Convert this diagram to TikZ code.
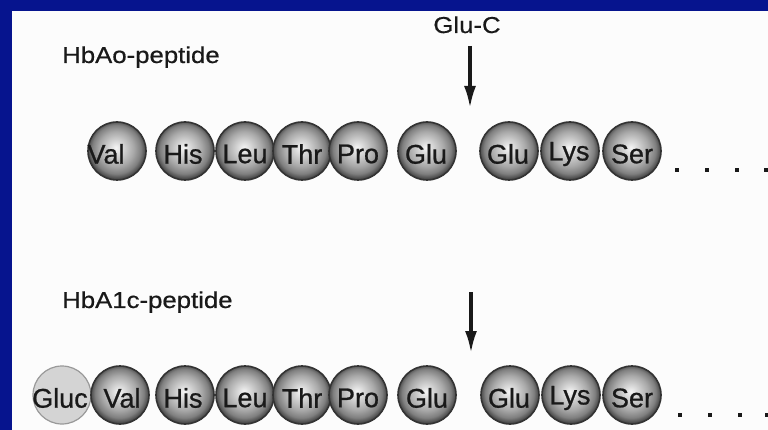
\documentclass[tikz,border=0pt]{standalone}
\usepackage{fontspec}
\setmainfont{Liberation Sans}
\newfontfamily\labfont[FakeStretch=1.12,FakeBold=0.6]{Liberation Sans}
\newfontfamily\ballfont[FakeBold=0.8]{Liberation Sans}
\pgfdeclareradialshading{pepball}{\pgfqpoint{-1bp}{3bp}}{%
  color(0bp)=(black!4);
  color(7bp)=(black!18);
  color(15bp)=(black!34);
  color(21bp)=(black!50);
  color(25bp)=(black!72);
  color(28bp)=(black!80);
  color(40bp)=(black!80)}
\definecolor{bgblue}{RGB}{6,20,142}
\definecolor{panel}{RGB}{252,252,252}
\definecolor{ink}{RGB}{25,25,25}
\usetikzlibrary{arrows.meta}
\tikzset{
  aa/.style={circle,minimum size=58pt,inner sep=0pt,draw=black!80,line width=1.6pt,
    shading=pepball},
  glucball/.style={circle,minimum size=58pt,inner sep=0pt,draw=black!40,line width=1.2pt,
    fill=black!17},
  aatext/.style={anchor=center,inner sep=0pt,text=ink,font=\ballfont\fontsize{27}{27}\selectfont},
  lab/.style={anchor=base west,inner sep=0pt,text=ink,font=\labfont\fontsize{23}{23}\selectfont},
  cut/.style={-{Latex[length=22pt,width=12pt]},line width=3.2pt,draw=ink},
  dotmark/.style={rectangle,fill=ink,inner sep=0pt,minimum size=4.5pt}
}
\begin{document}
\begin{tikzpicture}[x=1pt,y=-1pt]
\useasboundingbox (0,0) rectangle (768,430);
\fill[bgblue] (0,0) rectangle (768,430);
\fill[panel] (12,11) rectangle (768,430);
% top row
\node[lab] (t1) at (62,63) {HbAo-peptide};
\node[lab,anchor=base] (gc) at (467,33) {Glu-C};
\coordinate (a1s) at (470,46);
\coordinate (a1e) at (470,108);
\draw[cut] (a1s) -- (a1e);
\foreach \n/\x in {v/117,h/185,l/245,th/302,p/358,g/427,gb/509,k/570,s/632}{
  \node[aa] (top\n) at (\x,151) {};
}
\foreach \n/\x/\t in {v/106/Val,h/183/His,l/245/Leu,th/302/Thr,p/358/Pro,g/426/Glu,gb/508/Glu,k/569/Lys,s/632/Ser}{
  \node[aatext] (topt\n) at (\x,154) {\t};
}
\foreach \i/\x in {1/677,2/707,3/737,4/766}{\node[dotmark] (td\i) at (\x,170) {};}
% bottom row
\node[lab] (t2) at (62,308) {HbA1c-peptide};
\coordinate (a2s) at (471,292);
\coordinate (a2e) at (471,353);
\draw[cut] (a2s) -- (a2e);
\node[glucball] (botgc) at (62,395) {};
\foreach \n/\x in {v/120,h/185,l/245,th/302,p/358,g/427,gb/510,k/571,s/632}{
  \node[aa] (bot\n) at (\x,395) {};
}
\node[aatext] (botgct) at (60,398) {Gluc};
\foreach \n/\x/\t in {v/122/Val,h/183/His,l/245/Leu,th/302/Thr,p/358/Pro,g/427/Glu,gb/509/Glu,k/570/Lys,s/632/Ser}{
  \node[aatext] (bott\n) at (\x,398) {\t};
}
\foreach \i/\x in {1/680,2/710,3/740,4/767}{\node[dotmark] (bd\i) at (\x,415) {};}
\end{tikzpicture}
\end{document}
